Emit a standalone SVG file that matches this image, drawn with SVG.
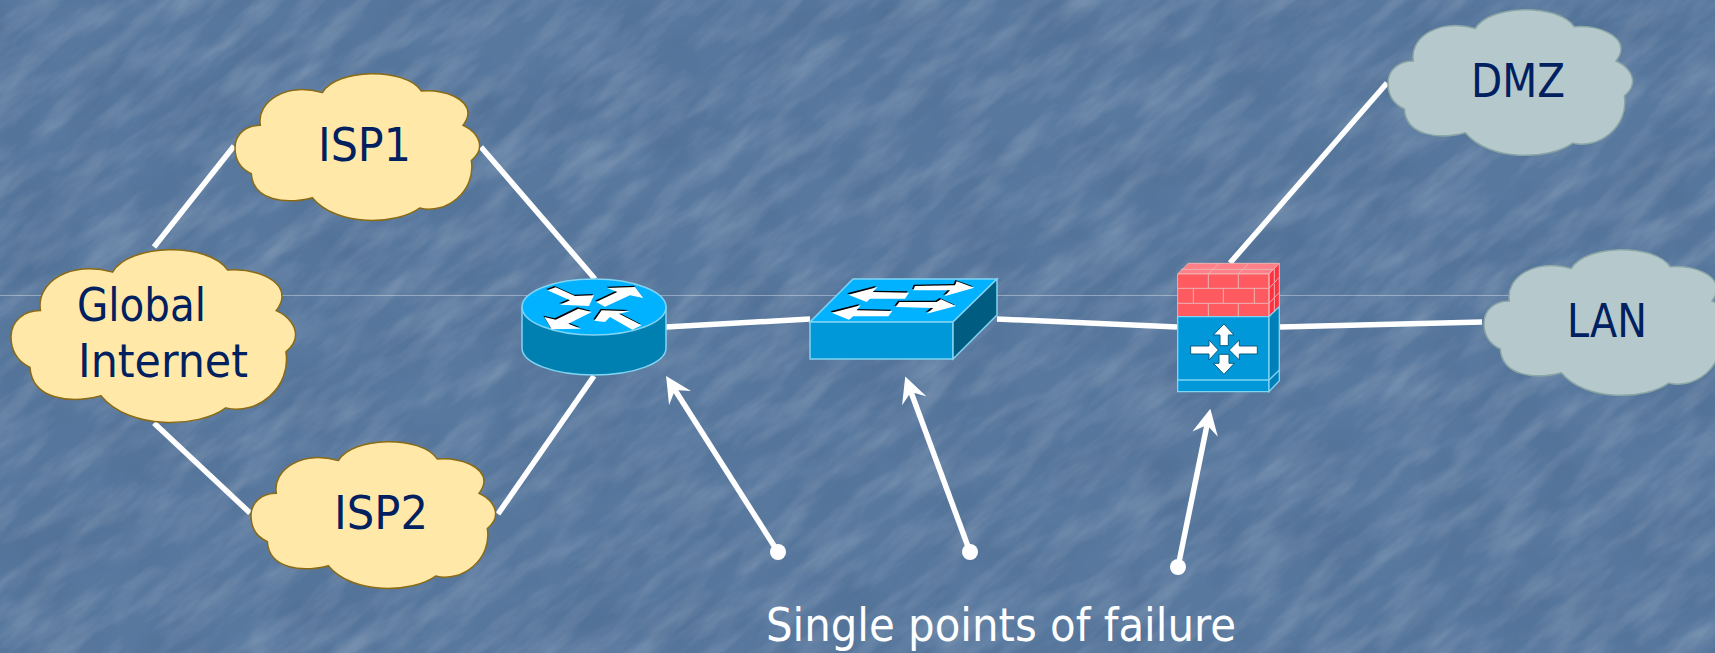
<svg xmlns="http://www.w3.org/2000/svg" width="1715" height="653" viewBox="0 0 1715 653">
<style>
.lbl{font-family:"DejaVu Sans","Liberation Sans",sans-serif;font-size:47px;fill:#00205f}
.big{fill:#fff}
#cloud{stroke-width:1.5;vector-effect:non-scaling-stroke}
.warm{fill:#ffe8a8;stroke:#8a6a14}
.cool{fill:#b5c8cb;stroke:#8aa5a5}
.link{stroke:#fff;stroke-width:5.5;fill:none}
.call{stroke:#fff;stroke-width:5.5;fill:none;marker-start:url(#dot);marker-end:url(#head)}
.edge{stroke:#80d4f4;stroke-width:1.5}
.arw{fill:#fff}
.shd{fill:#000}
.brick{stroke:#eab4b4;stroke-width:3;fill:none}
</style>
<defs>
<filter id="tex" filterUnits="userSpaceOnUse" x="-600" y="-900" width="3000" height="2400" color-interpolation-filters="sRGB">
<feTurbulence type="fractalNoise" baseFrequency="0.014 0.05" numOctaves="4" seed="7"/>
<feColorMatrix type="matrix" values="0 0 0 0 1  0 0 0 0 1  0 0 0 0 1  0.36 0 0 0 -0.14"/>
</filter>
<filter id="tex2" filterUnits="userSpaceOnUse" x="0" y="0" width="1715" height="653" color-interpolation-filters="sRGB">
<feTurbulence type="fractalNoise" baseFrequency="0.014" numOctaves="3" seed="3"/>
<feColorMatrix type="matrix" values="0 0 0 0 0.2  0 0 0 0 0.3  0 0 0 0 0.45  0 0.9 0 0 -0.35"/>
</filter>
<path id="cloud" d="M968,95C1010,25 1215,20 1265,90C1340,85 1405,115 1405,155C1405,170 1398,180 1390,190C1425,205 1440,230 1440,250C1440,265 1430,280 1415,292C1430,380 1340,450 1260,430C1190,480 1010,485 938,400C860,420 760,410 755,330C720,315 706,285 706,255C706,215 740,190 782,190C770,120 860,65 968,95Z"/>
<marker id="head" markerUnits="userSpaceOnUse" viewBox="0 0 26 26" markerWidth="26" markerHeight="26" refX="9.4" refY="13" orient="auto"><path d="M26,13L0,0L9.4,13L0,26Z" fill="#fff"/></marker>
<marker id="dot" markerUnits="userSpaceOnUse" viewBox="0 0 16 16" markerWidth="16" markerHeight="16" refX="8" refY="8"><circle cx="8" cy="8" r="8" fill="#fff"/></marker>
<path id="rarrows" d="M97,55L122,46L180,72L237,70L222,102L135,98L165,85ZM243,90L307,60L277,48L360,45L385,78L345,70L270,104ZM88,135L122,143L190,110L230,120L160,155L198,170L110,172ZM238,146L260,115L345,118L312,125L380,160L352,173L285,135L270,150Z"/>
<path id="sarrows" d="M130,68L218,45L203,60L312,62L300,80L195,80L185,90ZM330,42L450,40L455,28L508,47L418,73L435,55L325,55ZM80,122L167,100L155,115L262,117L250,133L145,133L132,143ZM283,90L395,90L408,82L453,102L365,125L385,108L272,105Z"/>
</defs>
<g id="background">
<rect width="1715" height="653" fill="#58789e"/>
<rect x="-600" y="-900" width="3000" height="2400" filter="url(#tex)" transform="rotate(-38 857 326)"/>
<rect width="1715" height="653" filter="url(#tex2)" opacity="0.35"/>
<path d="M0,295.500H1510" stroke="#fff" stroke-opacity="0.35" stroke-width="1"/>
</g>
<g id="connectors">
<path class="link" d="M154,247L234,146"/>
<path class="link" d="M154,423L250,513"/>
<path class="link" d="M481,147L595,279"/>
<path class="link" d="M498,514L594,376"/>
<path class="link" d="M666,327L810,319"/>
<path class="link" d="M997,319L1177,327"/>
<path class="link" d="M1280,327L1482,322"/>
<path class="link" d="M1230,263L1387,83"/>
<path class="call" d="M778,552L675,390"/>
<path class="call" d="M970,552L911,392"/>
<path class="call" d="M1178,567L1207,425"/>
</g>
<g id="global-internet"><use href="#cloud" class="warm" transform="translate(11 249) scale(0.3877 0.4053) translate(-706 -38)"/><text class="lbl" x="77" y="321" textLength="129" lengthAdjust="spacingAndGlyphs">Global</text><text class="lbl" x="78" y="377" textLength="170" lengthAdjust="spacingAndGlyphs">Internet</text></g>
<g id="isp1"><use href="#cloud" class="warm" transform="translate(235 73) scale(0.3333 0.3444) translate(-706 -38)"/><text class="lbl" x="318" y="161" textLength="93" lengthAdjust="spacingAndGlyphs">ISP1</text></g>
<g id="isp2"><use href="#cloud" class="warm" transform="translate(251 441) scale(0.3333 0.3444) translate(-706 -38)"/><text class="lbl" x="334" y="529" textLength="94" lengthAdjust="spacingAndGlyphs">ISP2</text></g>
<g id="dmz"><use href="#cloud" class="cool" transform="translate(1388 9) scale(0.3333 0.3419) translate(-706 -38)"/><text class="lbl" x="1471" y="97" textLength="94" lengthAdjust="spacingAndGlyphs">DMZ</text></g>
<g id="lan"><use href="#cloud" class="cool" transform="translate(1484 249) scale(0.3333 0.3419) translate(-706 -38)"/><text class="lbl" x="1567" y="337" textLength="80" lengthAdjust="spacingAndGlyphs">LAN</text></g>
<g id="router">
<path class="edge" fill="#0080b0" d="M522,307V348C522,363 554,375 594,375C634,375 666,363 666,348V307Z"/>
<ellipse class="edge" cx="594" cy="307" rx="72" ry="28" fill="#00b2ff"/>
<g transform="translate(515 272) scale(0.3333)"><use href="#rarrows" class="shd" transform="translate(-3 -4)"/><use href="#rarrows" class="arw"/></g>
</g>
<g id="switch">
<path class="edge" fill="#00b2ff" d="M810,322L853,279H997L953,322Z"/>
<path class="edge" fill="#0098d8" d="M810,322H953V359H810Z"/>
<path class="edge" fill="#005c80" d="M953,322L997,279V315L953,359Z"/>
<g transform="translate(805 272) scale(0.3333)"><use href="#sarrows" class="shd" transform="translate(-4 -4)"/><use href="#sarrows" class="arw"/></g>
</g>
<g id="firewall" transform="translate(1150 240) scale(0.3333)">
<path fill="#ff8088" stroke="#eab4b4" stroke-width="3" d="M83,102L115,70H388L357,102Z"/>
<path fill="#ff5a5f" d="M83,102H357V230H83Z"/>
<path fill="#ff3040" stroke="#eab4b4" stroke-width="3" d="M357,102L388,70V200L357,230Z"/>
<path fill="#0098d8" stroke="#80d4f4" stroke-width="4" d="M83,230H357V455H83Z"/>
<path fill="#0080b8" stroke="#80d4f4" stroke-width="4" d="M357,230L388,200V422L357,455Z"/>
<path stroke="#80d4f4" stroke-width="4" fill="none" d="M83,420H357L388,390"/>
<path class="brick" d="M83,102H357V230M83,102V230M83,145H357M83,190H357M175,102V145M265,102V145M130,145V190M220,145V190M313,145V190M175,190V230M265,190V230M93,88H368M207,70L175,102M297,70L265,102M357,145L388,112M357,190L388,157M373,87V130M373,132V175M373,175V215"/>
<path fill="#fff" stroke="#0a5a80" stroke-width="3" d="M222,252L252,285H235V317H210V285H190ZM222,403L190,370H207V343H237V370H253ZM205,330L177,360V342H122V318H177V300ZM238,330L268,300V318H322V342H268V360Z"/>
</g>
<g id="caption"><text class="lbl big" x="766" y="641" textLength="470" lengthAdjust="spacingAndGlyphs">Single points of failure</text></g>
</svg>
